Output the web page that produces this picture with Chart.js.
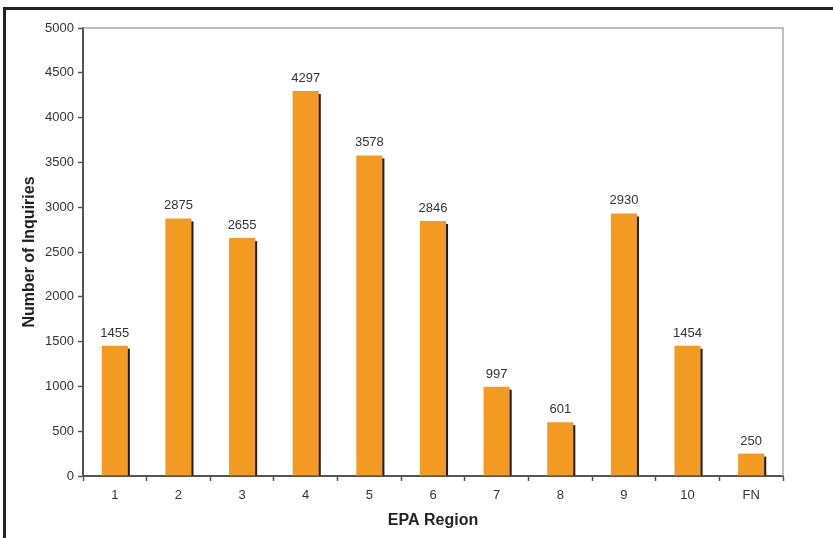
<!DOCTYPE html>
<html>
<head>
<meta charset="utf-8">
<script src="https://cdn.jsdelivr.net/npm/chart.js@4.4.0/dist/chart.umd.min.js"></script>
<style>
  html, body { margin: 0; padding: 0; background: #fff; }
  #wrap { width: 833px; height: 538px; }
</style>
</head>
<body>
<div id="wrap"><canvas id="epaChart" width="833" height="538"></canvas></div>
<script>
var regions = ['1', '2', '3', '4', '5', '6', '7', '8', '9', '10', 'FN'];
var inquiries = [1455, 2875, 2655, 4297, 3578, 2846, 997, 601, 2930, 1454, 250];
var yTicks = [0, 500, 1000, 1500, 2000, 2500, 3000, 3500, 4000, 4500, 5000];

var barColor = '#F39A22';
var axisColor = '#555555';

// dark drop shadow on the right of each bar
const barShadow = {
  id: 'barShadow',
  beforeDatasetsDraw(chart) {
    const { ctx, chartArea } = chart;
    ctx.save();
    ctx.beginPath();
    ctx.rect(chartArea.left, chartArea.top, chartArea.width, chartArea.height);
    ctx.clip();
    ctx.fillStyle = '#1E1E1E';
    chart.getDatasetMeta(0).data.forEach(function (bar) {
      const left = bar.x - bar.width / 2;
      ctx.fillRect(left + 2, bar.y + 3, bar.width, bar.base - bar.y - 3);
    });
    ctx.restore();
  }
};

const extras = {
  id: 'extras',
  afterDatasetsDraw(chart) {
    const { ctx, chartArea: { top, bottom, left, right } } = chart;
    ctx.save();
    // value labels
    ctx.font = '13px "Liberation Sans", Arial, sans-serif';
    ctx.fillStyle = '#333333';
    ctx.textAlign = 'center';
    ctx.textBaseline = 'alphabetic';
    const data = chart.data.datasets[0].data;
    chart.getDatasetMeta(0).data.forEach(function (bar, i) {
      ctx.fillText(String(data[i]), bar.x, bar.y - 9);
    });

    // light plot border top/right
    ctx.strokeStyle = '#ABABAB';
    ctx.lineWidth = 1.5;
    ctx.beginPath();
    ctx.moveTo(left, top);
    ctx.lineTo(right, top);
    ctx.lineTo(right, bottom);
    ctx.stroke();

    // axis titles
    ctx.fillStyle = '#222222';
    ctx.font = 'bold 16px "Liberation Sans", Arial, sans-serif';
    ctx.textBaseline = 'middle';
    ctx.fillText('EPA Region', (left + right) / 2, 521);
    ctx.save();
    ctx.translate(30, (top + bottom) / 2);
    ctx.rotate(-Math.PI / 2);
    ctx.fillText('Number of Inquiries', 0, 0);
    ctx.restore();

    // outer frame (top and left)
    ctx.fillStyle = '#222222';
    ctx.fillRect(3, 7, 830, 3);
    ctx.fillRect(3, 7, 3, 531);
    ctx.restore();
  }
};

new Chart(document.getElementById('epaChart'), {
  type: 'bar',
  data: {
    labels: regions,
    datasets: [{
      data: inquiries,
      backgroundColor: barColor,
      borderWidth: 0,
      barPercentage: 0.41,
      categoryPercentage: 1.0
    }]
  },
  options: {
    responsive: false,
    animation: false,
    layout: { padding: { top: 28, right: 50, left: 0, bottom: 0 } },
    plugins: {
      legend: { display: false },
      tooltip: { enabled: false }
    },
    scales: {
      x: {
        offset: true,
        grid: {
          offset: true,
          drawOnChartArea: false,
          tickLength: 5,
          tickWidth: 1.5,
          color: axisColor
        },
        border: { color: axisColor, width: 2 },
        ticks: {
          padding: 7,
          color: '#333333',
          font: { family: '"Liberation Sans", Arial, sans-serif', size: 13 }
        },
        afterFit: function (scale) { scale.height = 62; }
      },
      y: {
        min: 0,
        max: 5000,
        afterBuildTicks: function (scale) {
          scale.ticks = yTicks.map(function (v) { return { value: v }; });
        },
        grid: {
          drawOnChartArea: false,
          tickLength: 5,
          tickWidth: 1.5,
          color: axisColor
        },
        border: { color: axisColor, width: 2 },
        ticks: {
          padding: 4,
          color: '#333333',
          font: { family: '"Liberation Sans", Arial, sans-serif', size: 13 },
          callback: function (value) { return String(value); }
        },
        afterFit: function (scale) { scale.width = 83; }
      }
    }
  },
  plugins: [barShadow, extras]
});
</script>
</body>
</html>
